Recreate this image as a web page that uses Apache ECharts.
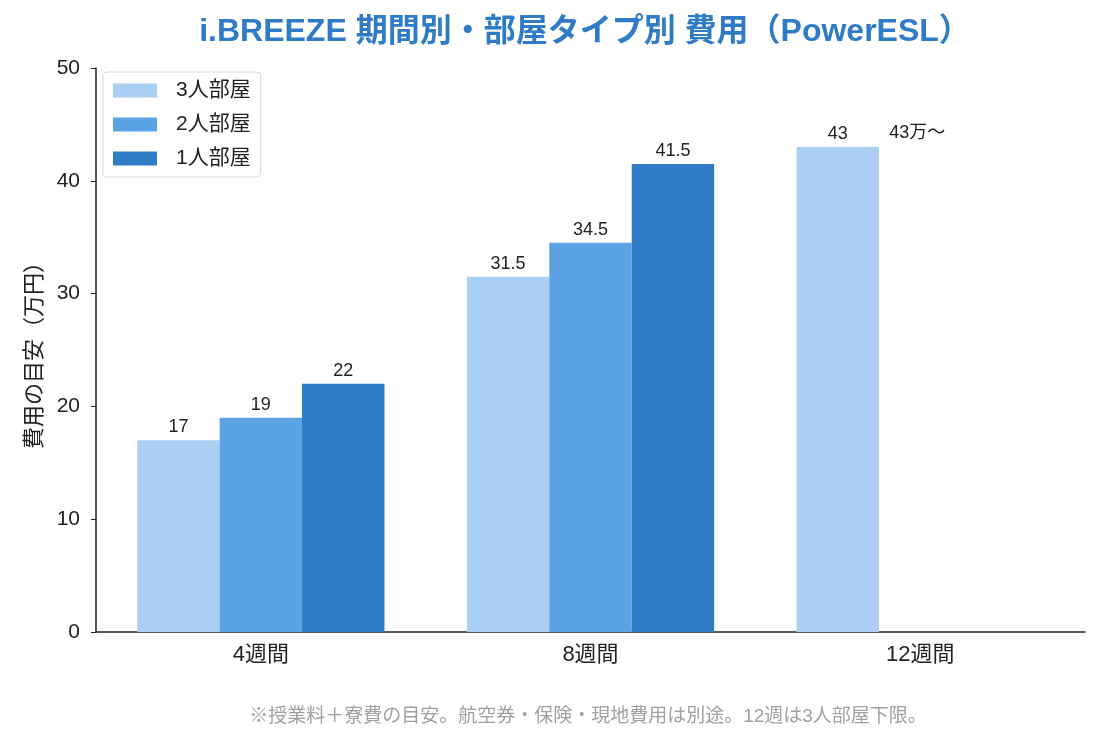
<!DOCTYPE html>
<html>
<head>
<meta charset="utf-8">
<script src="https://cdn.jsdelivr.net/npm/echarts@6/dist/echarts.min.js"></script>
<style>
    html, body {margin: 0; padding: 0; background: #fff;}
    #chart {width: 1100px; height: 742px;}
</style>
</head>
<body>
<div id="chart"></div>
<script>
// 期間ごとの費用（万円）
var periods = ["4週間", "8週間", "12週間"];
var room3 = [17, 31.5, 43];
var room2 = [19, 34.5, null];
var room1 = [22, 41.5, null];
var seriesNames = ["3人部屋", "2人部屋", "1人部屋"];
var yTicks = {min: 0, max: 50, interval: 10};
var note12 = "43万〜";

var font = '"Liberation Sans", "Noto Sans CJK JP", sans-serif';
var colors = ["#aacff2", "#5ca3e6", "#2f7bc6"];

var chart = echarts.init(document.getElementById("chart"));

var barLabel = {
    show: true,
    position: "top",
    distance: 4,
    color: "#222",
    fontSize: 18,
    fontFamily: font
};

function makeSeries(name, data, idx) {
    return {
        name: name,
        type: "bar",
        data: data,
        barGap: "0%",
        barCategoryGap: "25%",
        itemStyle: {color: colors[idx]},
        label: barLabel
    };
}

var series = [
    makeSeries(seriesNames[0], room3, 0),
    makeSeries(seriesNames[1], room2, 1),
    makeSeries(seriesNames[2], room1, 2)
];
// 12週は3人部屋のみ、横に注記
series[0].markPoint = {
    symbol: "rect",
    symbolSize: 1,
    itemStyle: {color: "transparent"},
    data: [{coord: [2, room3[2]], value: room3[2]}],
    label: {
        show: true,
        formatter: note12,
        position: [52, -22],
        color: "#222",
        fontSize: 18,
        fontFamily: font
    }
};

var option = {
    animation: false,
    backgroundColor: "#fff",
    title: {
        text: "i.BREEZE 期間別・部屋タイプ別 費用（PowerESL）",
        left: 580,
        textAlign: "center",
        top: 11,
        textStyle: {color: "#2f7bc6", fontSize: 32, fontWeight: "bold", fontFamily: font}
    },
    legend: {
        orient: "vertical",
        left: 103,
        top: 72,
        padding: [8, 10, 8, 10],
        itemWidth: 44,
        itemHeight: 14,
        itemGap: 13,
        backgroundColor: "#fff",
        borderColor: "#d8d8d8",
        borderWidth: 1,
        borderRadius: 4,
        icon: "rect",
        textStyle: {fontSize: 21, color: "#222", fontFamily: font, padding: [0, 0, 0, 14]},
        data: seriesNames
    },
    grid: {left: 96, right: 15, top: 68, bottom: 110},
    xAxis: {
        type: "category",
        data: periods,
        axisLine: {lineStyle: {color: "#222", width: 1.5}},
        axisTick: {alignWithLabel: true, length: 5, lineStyle: {color: "#222"}},
        axisLabel: {fontSize: 22, color: "#222", margin: 12, fontFamily: font}
    },
    yAxis: {
        type: "value",
        min: yTicks.min,
        max: yTicks.max,
        interval: yTicks.interval,
        name: "費用の目安（万円）",
        nameLocation: "middle",
        nameRotate: 90,
        nameGap: 40,
        nameTextStyle: {fontSize: 22, color: "#222", fontFamily: font},
        axisLine: {show: true, lineStyle: {color: "#222", width: 1.5}},
        axisTick: {show: true, length: 5, lineStyle: {color: "#222"}},
        axisLabel: {fontSize: 21, color: "#222", margin: 16, fontFamily: font},
        splitLine: {show: false}
    },
    graphic: [{
        type: "text",
        x: 588,
        y: 717,
        style: {
            text: "※授業料＋寮費の目安。航空券・保険・現地費用は別途。12週は3人部屋下限。",
            fill: "#a0a0a0",
            fontSize: 19,
            fontFamily: font,
            align: "center",
            verticalAlign: "middle"
        }
    }],
    series: series
};

chart.setOption(option);
</script>
</body>
</html>
